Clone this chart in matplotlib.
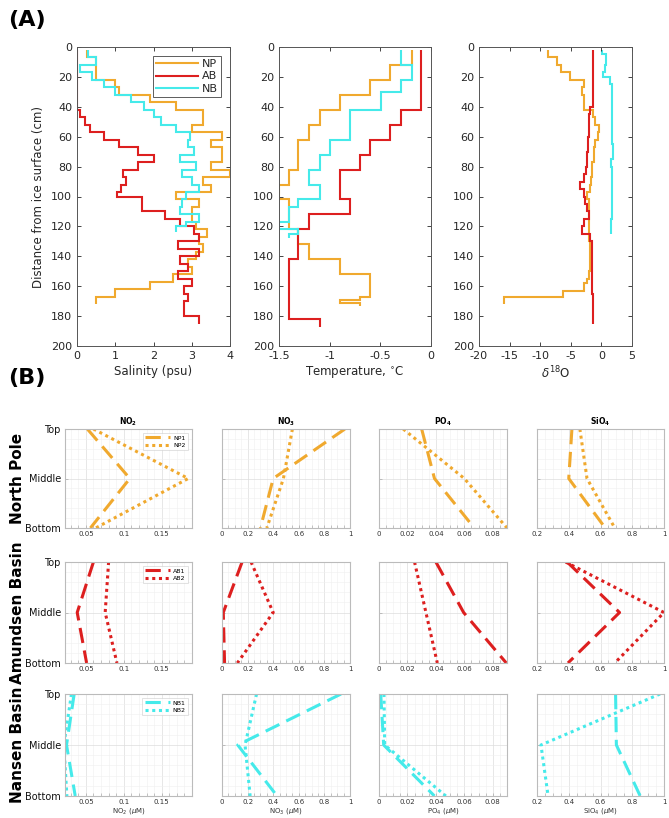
import numpy as np
import matplotlib
matplotlib.use('Agg')
import matplotlib.pyplot as plt

# ---------------- Panel (A): ice core profiles (step data) ----------------
# salinity (psu)
np_sal_edges = [2, 7, 22, 27, 32, 37, 42, 52, 57, 62, 67, 77, 82, 87, 92, 97, 102, 107, 117,
                122, 127, 132, 137, 142, 147, 152, 157, 162, 167, 172]
np_sal = [0.25, 0.5, 1.0, 1.1, 1.9, 2.6, 3.3, 3.0, 3.8, 3.5, 3.8, 3.5, 4.0, 3.3, 3.5, 2.6, 3.2,
          3.0, 3.1, 3.4, 3.2, 3.3, 3.1, 2.9, 3.0, 2.5, 1.9, 1.0, 0.5]
ab_sal_edges = [2, 42, 47, 52, 57, 62, 67, 72, 77, 82, 87, 92, 97, 100, 110, 115, 120, 125,
                130, 135, 140, 145, 150, 155, 160, 165, 170, 180, 185]
ab_sal = [0.0, 0.07, 0.2, 0.35, 0.7, 1.1, 1.6, 2.0, 1.6, 1.2, 1.27, 1.15, 1.05, 1.7, 2.3, 2.7,
          3.05, 3.2, 2.65, 3.2, 2.7, 2.9, 2.65, 3.0, 2.8, 2.9, 2.8, 3.2]
nb_sal_edges = [2, 7, 12, 17, 22, 27, 32, 37, 42, 47, 52, 57, 62, 67, 72, 77, 82, 87, 92, 97,
                102, 107, 112, 117, 120, 124]
nb_sal = [0.3, 0.5, 0.07, 0.4, 0.7, 1.0, 1.4, 1.75, 2.0, 2.2, 2.6, 2.95, 2.9, 3.05, 2.7, 3.1,
          2.75, 3.0, 3.2, 2.85, 2.75, 2.7, 3.2, 2.85, 2.6]

# temperature (deg C)
np_tem_edges = [2, 12, 22, 32, 42, 52, 62, 82, 92, 102, 122, 132, 142, 152, 167, 169, 171, 173]
np_tem = [-0.19, -0.40, -0.60, -0.90, -1.10, -1.20, -1.31, -1.40, -1.50, -1.40, -1.31, -1.20,
          -0.90, -0.60, -0.70, -0.90, -0.70]
ab_tem_edges = [2, 42, 52, 62, 72, 82, 102, 112, 122, 142, 182, 187]
ab_tem = [-0.095, -0.30, -0.40, -0.60, -0.70, -0.90, -0.80, -1.20, -1.31, -1.40, -1.10]
nb_tem_edges = [2, 12, 22, 30, 42, 62, 72, 82, 92, 102, 107, 117, 122, 125, 128]
nb_tem = [-0.30, -0.19, -0.30, -0.49, -0.80, -1.00, -1.10, -1.20, -1.10, -1.31, -1.40, -1.50,
          -1.31, -1.40]

# delta 18O
np_d18_edges = [2, 7, 12, 17, 22, 27, 32, 42, 47, 52, 57, 62, 67, 77, 87, 92, 97, 102, 130, 150,
                155, 158, 163, 167, 172]
np_d18 = [-8.7, -7.2, -6.65, -5.2, -2.8, -3.2, -2.8, -1.4, -1.0, -0.35, -0.6, -1.0, -1.2, -1.5,
          -1.7, -1.8, -2.3, -2.1, -1.8, -2.1, -2.4, -2.9, -6.3, -15.9]
ab_d18_edges = [2, 40, 45, 55, 60, 70, 80, 85, 90, 95, 100, 105, 110, 115, 120, 125, 130, 165, 185]
ab_d18 = [-1.4, -1.9, -2.1, -1.95, -2.2, -2.4, -2.55, -2.8, -3.5, -2.8, -2.6, -2.4, -2.1, -2.8,
          -3.1, -1.8, -1.55, -1.3]
nb_d18_edges = [2, 5, 12, 17, 20, 25, 65, 75, 80, 115, 125]
nb_d18 = [0.1, 0.8, 0.6, 0.25, 1.45, 1.8, 1.9, 1.55, 1.7, 1.5]

# ---------------- Panel (B): nutrients at Top / Middle / Bottom ----------------
levels = ['Top', 'Middle', 'Bottom']
nutrients = ['NO2', 'NO3', 'PO4', 'SiO4']
stations = ['North Pole', 'Amundsen Basin', 'Nansen Basin']
series_names = [['NP1', 'NP2'], ['AB1', 'AB2'], ['NB1', 'NB2']]

np1 = {'NO2': [0.052, 0.108, 0.056], 'NO3': [0.96, 0.40, 0.30],
       'PO4': [0.030, 0.039, 0.067], 'SiO4': [0.42, 0.40, 0.63]}
np2 = {'NO2': [0.060, 0.185, 0.063], 'NO3': [0.55, 0.48, 0.35],
       'PO4': [0.017, 0.060, 0.090], 'SiO4': [0.47, 0.515, 0.69]}
ab1 = {'NO2': [0.060, 0.0386, 0.051], 'NO3': [0.157, 0.01, 0.02],
       'PO4': [0.040, 0.0595, 0.0895], 'SiO4': [0.39, 0.72, 0.395]}
ab2 = {'NO2': [0.080, 0.0755, 0.091], 'NO3': [0.227, 0.40, 0.12],
       'PO4': [0.025, 0.033, 0.041], 'SiO4': [0.38, 1.0, 0.69]}
nb1 = {'NO2': [0.0346, 0.0245, 0.036], 'NO3': [0.93, 0.123, 0.43],
       'PO4': [0.0012, 0.0033, 0.039], 'SiO4': [0.695, 0.70, 0.85]}
nb2 = {'NO2': [0.031, 0.021, 0.025], 'NO3': [0.27, 0.18, 0.22],
       'PO4': [0.0035, 0.004, 0.047], 'SiO4': [0.975, 0.225, 0.27]}
rows_data = [(np1, np2), (ab1, ab2), (nb1, nb2)]

c_np = '#F0A92E'
c_ab = '#DD1F1F'
c_nb = '#45EAEA'
row_colors = [c_np, c_ab, c_nb]

W, H = 669, 818
fig = plt.figure(figsize=(W / 100, H / 100), dpi=100)


def rect(l, t, r, b):
    return [l / W, 1 - b / H, (r - l) / W, (b - t) / H]


txt = '#262626'

# ---- panel A ----
specs_a = [
    ((77, 47, 230, 346), (0, 4), [0, 1, 2, 3, 4], ['0', '1', '2', '3', '4'], 'Salinity (psu)',
     [(np_sal_edges, np_sal, c_np, 'NP'), (ab_sal_edges, ab_sal, c_ab, 'AB'),
      (nb_sal_edges, nb_sal, c_nb, 'NB')]),
    ((279, 47, 431, 346), (-1.5, 0), [-1.5, -1, -0.5, 0], ['-1.5', '-1', '-0.5', '0'],
     'Temperature, $^{\\circ}$C',
     [(np_tem_edges, np_tem, c_np, 'NP'), (ab_tem_edges, ab_tem, c_ab, 'AB'),
      (nb_tem_edges, nb_tem, c_nb, 'NB')]),
    ((479, 47, 632, 346), (-20, 5), [-20, -15, -10, -5, 0, 5],
     ['-20', '-15', '-10', '-5', '0', '5'], r'$\delta^{18}$O',
     [(np_d18_edges, np_d18, c_np, 'NP'), (ab_d18_edges, ab_d18, c_ab, 'AB'),
      (nb_d18_edges, nb_d18, c_nb, 'NB')]),
]

for i, (box, xlim, xt, xtl, xlab, series) in enumerate(specs_a):
    ax = fig.add_axes(rect(*box))
    for edges, vals, col, lab in series:
        ax.stairs(vals, edges, orientation='horizontal', baseline=None,
                  color=col, lw=1.5, label=lab)
    ax.set_xlim(*xlim)
    ax.set_ylim(200, 0)
    ax.set_xticks(xt)
    ax.set_xticklabels(xtl)
    ax.set_yticks(np.arange(0, 201, 20))
    ax.tick_params(direction='in', top=True, right=True, labelsize=8, colors=txt,
                   length=3, width=0.6)
    for s in ax.spines.values():
        s.set_color('#555555')
        s.set_linewidth(0.7)
    ax.set_xlabel(xlab, fontsize=8.5, color=txt, labelpad=3)
    if i == 0:
        ax.set_ylabel('Distance from ice surface (cm)', fontsize=8.5, color=txt)
        leg = ax.legend(loc='upper right', fontsize=8, handlelength=3.8,
                        fancybox=False, edgecolor='#333333', borderpad=0.3,
                        labelspacing=0.2, handletextpad=0.3, borderaxespad=0.8)
        leg.get_frame().set_linewidth(0.7)
        for t in leg.get_texts():
            t.set_color(txt)

fig.text(0.012, 0.976, '(A)', fontsize=16, fontweight='bold', va='center')
fig.text(0.012, 0.538, '(B)', fontsize=16, fontweight='bold', va='center')

# ---- panel B ----
row_box = [(429, 528), (562, 663), (694, 796)]
col_box = [(65, 192), (222, 350), (379, 507), (537, 664)]
xlims = {'NO2': (0.0225, 0.19), 'NO3': (0, 1), 'PO4': (0, 0.09), 'SiO4': (0.2, 1)}
xticks = {'NO2': [0.05, 0.1, 0.15], 'NO3': [0, 0.2, 0.4, 0.6, 0.8, 1],
          'PO4': [0, 0.02, 0.04, 0.06, 0.08], 'SiO4': [0.2, 0.4, 0.6, 0.8, 1]}
xtlabels = {'NO2': ['0.05', '0.1', '0.15'], 'NO3': ['0', '0.2', '0.4', '0.6', '0.8', '1'],
            'PO4': ['0', '0.02', '0.04', '0.06', '0.08'], 'SiO4': ['0.2', '0.4', '0.6', '0.8', '1']}
titles = {'NO2': r'$\mathbf{NO_2}$', 'NO3': r'$\mathbf{NO_3}$', 'PO4': r'$\mathbf{PO_4}$',
          'SiO4': r'$\mathbf{SiO_4}$'}
xlabs = {'NO2': r'NO$_2$ ($\mu$M)', 'NO3': r'NO$_3$ ($\mu$M)', 'PO4': r'PO$_4$ ($\mu$M)',
         'SiO4': r'SiO$_4$ ($\mu$M)'}
ypos = np.arange(len(levels))

for r, (t, b) in enumerate(row_box):
    d1, d2 = rows_data[r]
    col = row_colors[r]
    for c, (l, rr) in enumerate(col_box):
        key = nutrients[c]
        ax = fig.add_axes(rect(l, t, rr, b))
        ax.plot(d1[key], ypos, color=col, lw=2.2, ls=(0, (5, 2.5)), label=series_names[r][0])
        ax.plot(d2[key], ypos, color=col, lw=2.2, ls=(0, (1, 1.2)), label=series_names[r][1])
        ax.set_xlim(*xlims[key])
        ax.set_ylim(2, 0)
        ax.set_xticks(xticks[key])
        ax.set_xticklabels(xtlabels[key])
        ax.set_yticks(ypos)
        if c == 0:
            ax.set_yticklabels(levels)
        else:
            ax.set_yticklabels([])
        ax.minorticks_on()
        ax.grid(True, which='major', color='#dddddd', lw=0.5)
        ax.grid(True, which='minor', color='#efefef', lw=0.4)
        ax.tick_params(which='both', direction='in', length=2, width=0.4,
                       colors='#999999', labelsize=5, labelcolor='#333333', pad=2)
        ax.tick_params(axis='y', which='minor', left=False)
        ax.tick_params(axis='y', which='major', labelsize=7, labelcolor='#111111', pad=3)
        for s in ax.spines.values():
            s.set_color('#bbbbbb')
            s.set_linewidth(0.8)
        if r == 0:
            ax.set_title(titles[key], fontsize=5.5, pad=3)
        if r == 2:
            ax.set_xlabel(xlabs[key], fontsize=5, color='#333333', labelpad=1)
        if c == 0:
            leg = ax.legend(loc='upper right', fontsize=4.5, handlelength=4,
                            fancybox=False, edgecolor='#cccccc', borderpad=0.4,
                            labelspacing=0.3, handletextpad=0.5, borderaxespad=0.6)
            leg.get_frame().set_linewidth(0.5)
    fig.text(0.026, 1 - (t + b) / 2 / H, stations[r], rotation=90, fontsize=11,
             fontweight='bold', ha='center', va='center')

fig.savefig('out.png', dpi=100)
